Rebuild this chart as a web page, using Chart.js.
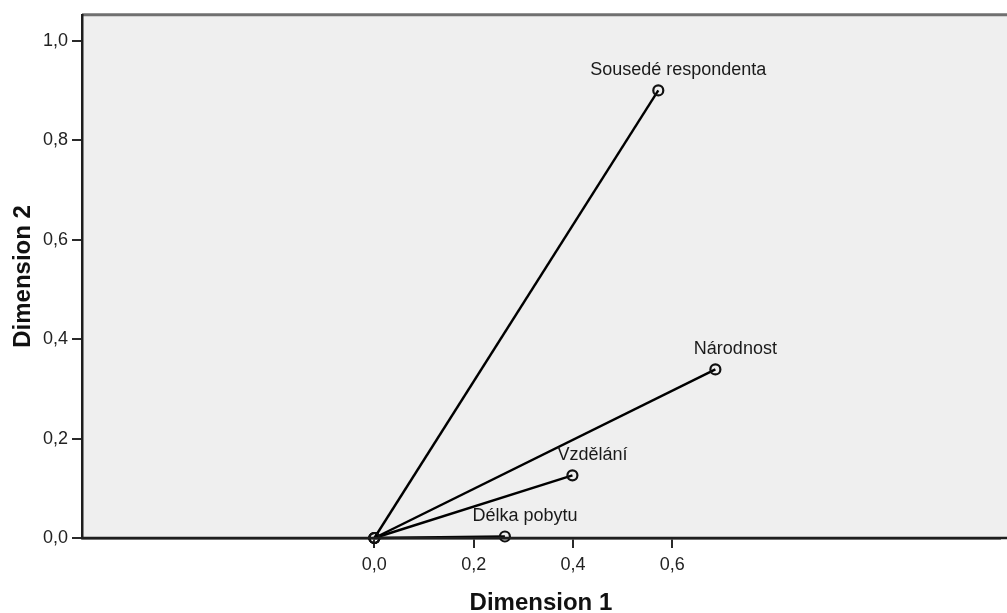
<!DOCTYPE html>
<html>
<head>
<meta charset="utf-8">
<script src="https://cdn.jsdelivr.net/npm/chart.js@4.4.0/dist/chart.umd.min.js"></script>
<style>
html,body{margin:0;padding:0;background:#fff;}
canvas{display:block;}
</style>
</head>
<body>
<canvas id="c" width="1007" height="613"></canvas>
<script>
// Component loadings
const variables = ['Sousedé respondenta', 'Národnost', 'Vzdělání', 'Délka pobytu'];
const dim1 = [0.572, 0.687, 0.399, 0.263];
const dim2 = [0.900, 0.339, 0.126, 0.003];
const xTickValues = [0.0, 0.2, 0.4, 0.6];
const yTickValues = [0.0, 0.2, 0.4, 0.6, 0.8, 1.0];
const xTitle = 'Dimension 1';
const yTitle = 'Dimension 2';

const FONT = "'Liberation Sans', Arial, sans-serif";
const fmt = v => v.toFixed(1).replace('.', ',');

const datasets = variables.map((name, i) => ({
  label: name,
  data: [{x: 0, y: 0}, {x: dim1[i], y: dim2[i]}],
  showLine: true,
  borderColor: '#000',
  borderWidth: 2.4,
  pointRadius: 5,
  pointBorderWidth: 2.2,
  pointBorderColor: '#111',
  pointBackgroundColor: 'rgba(0,0,0,0)',
  clip: false
}));

const bgPlugin = {
  id: 'bg',
  beforeDraw(chart) {
    const {ctx, chartArea: a} = chart;
    ctx.save();
    ctx.fillStyle = '#efefef';
    ctx.fillRect(a.left, a.top, chart.width - a.left, a.bottom - a.top);
    ctx.strokeStyle = '#707070';
    ctx.lineWidth = 3;
    ctx.beginPath();
    ctx.moveTo(a.left, a.top);
    ctx.lineTo(chart.width, a.top);
    ctx.stroke();
    ctx.restore();
  },
  afterDraw(chart) {
    const {ctx, chartArea: a} = chart;
    ctx.save();
    ctx.strokeStyle = '#1e1e1e';
    ctx.lineWidth = 2.5;
    ctx.beginPath();
    ctx.moveTo(a.left, a.bottom);
    ctx.lineTo(chart.width, a.bottom);
    ctx.stroke();
    ctx.restore();
  }
};

const labelPlugin = {
  id: 'labels',
  afterDatasetsDraw(chart) {
    const {ctx, scales: {x, y}} = chart;
    ctx.save();
    ctx.font = '18px ' + FONT;
    ctx.fillStyle = '#1a1a1a';
    ctx.textAlign = 'center';
    ctx.textBaseline = 'middle';
    variables.forEach((name, i) => {
      const px = x.getPixelForValue(dim1[i]);
      const py = y.getPixelForValue(dim2[i]);
      ctx.fillText(name, px + 20, py - 20);
    });
    ctx.restore();
  }
};

new Chart(document.getElementById('c'), {
  type: 'scatter',
  data: {datasets},
  options: {
    responsive: false,
    animation: false,
    layout: {padding: {top: 14, right: 0, left: 0, bottom: 0}},
    plugins: {legend: {display: false}, tooltip: {enabled: false}},
    scales: {
      x: {
        type: 'linear',
        min: -0.589,
        max: 1.26,
        afterBuildTicks(s) { s.ticks = xTickValues.map(v => ({value: v})); },
        afterFit(s) { s.height = 75; s.paddingRight = 0; },
        grid: {drawOnChartArea: false, drawTicks: true, tickLength: 10, tickColor: '#2a2a2a', lineWidth: 2},
        border: {display: true, color: '#1e1e1e', width: 2.5},
        ticks: {callback: v => fmt(v), color: '#222', font: {family: FONT, size: 18}, padding: 6, maxRotation: 0, autoSkip: false},
        title: {display: true, text: xTitle, color: '#111', font: {family: FONT, size: 24, weight: 'bold'}, padding: {top: 0, bottom: -5}}
      },
      y: {
        type: 'linear',
        min: 0,
        max: 1.052,
        afterBuildTicks(s) { s.ticks = yTickValues.map(v => ({value: v})); },
        afterFit(s) { s.width = 82; },
        grid: {drawOnChartArea: false, drawTicks: true, tickLength: 10, tickColor: '#2a2a2a', lineWidth: 2},
        border: {display: true, color: '#1e1e1e', width: 2.5},
        ticks: {callback: v => fmt(v), color: '#222', font: {family: FONT, size: 18}, padding: 4, autoSkip: false},
        title: {display: true, text: yTitle, color: '#111', font: {family: FONT, size: 24, weight: 'bold'}, padding: {top: 9, bottom: 0}}
      }
    }
  },
  plugins: [bgPlugin, labelPlugin]
});
</script>
</body>
</html>
